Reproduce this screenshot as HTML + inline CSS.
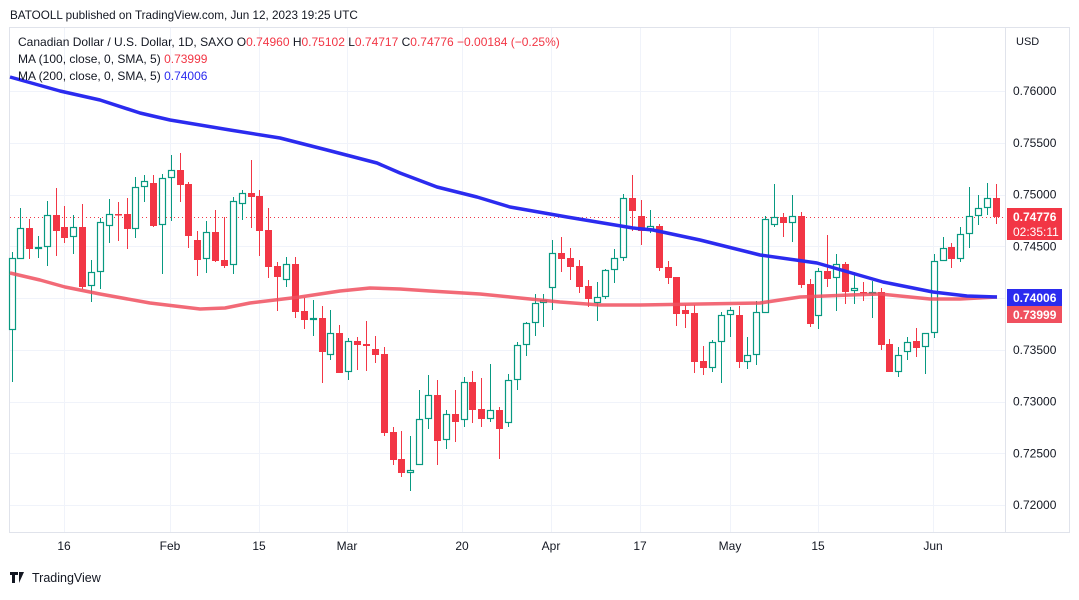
<!DOCTYPE html>
<html><head><meta charset="utf-8"><style>
body{margin:0;background:#fff;width:1079px;height:595px;overflow:hidden;font-family:"Liberation Sans",sans-serif}
</style></head><body>
<svg width="1079" height="595" xmlns="http://www.w3.org/2000/svg" font-family="Liberation Sans, sans-serif">
<rect width="1079" height="595" fill="#fff"/>
<text x="10" y="19" font-size="11.7" fill="#131722">BATOOLL published on TradingView.com, Jun 12, 2023 19:25 UTC</text>
<rect x="9.5" y="27.5" width="1060" height="505" fill="none" stroke="#e0e3eb"/>
<line x1="1005.5" y1="28" x2="1005.5" y2="532" stroke="#e0e3eb"/>
<g id="grid" stroke="#f0f3fa" stroke-width="1"></g>
<g id="labels" font-size="12" fill="#131722"></g>
<line x1="10" y1="217.5" x2="1005" y2="217.5" stroke="#f23645" stroke-dasharray="1,3"/>
<g id="candles"></g>
<polyline fill="none" stroke="#f0505f" stroke-width="3.5" stroke-opacity="0.85" stroke-linejoin="round" points="10,273 40,280 65,287 100,294 150,303 200,309 225,308 250,303 300,297 340,291 370,288 400,289 430,291 480,294 510,297 560,302 600,305 640,305 700,304 760,303 800,297 850,295 880,294 900,296 930,299 960,299 997,297"/>
<polyline fill="none" stroke="#2b2bef" stroke-width="3.5" stroke-linejoin="round" points="10,77 60,91 100,100 140,113 170,120 230,130 280,138 327,150 377,163 400,173 437,187 477,197 510,207 567,217 633,228 653,230 700,240 760,255 817,263 883,282 933,292 967,296 997,297"/>
<text x="1016" y="45" font-size="11" fill="#131722">USD</text>
<rect x="1007" y="208" width="55" height="32" fill="#f23645"/>
<text x="1013" y="221" font-size="12" fill="#fff" font-weight="bold">0.74776</text>
<text x="1013" y="236" font-size="12" fill="#fff">02:35:11</text>
<rect x="1007" y="289" width="55" height="17" fill="#2b2bef"/>
<text x="1013" y="302" font-size="12" fill="#fff" font-weight="bold">0.74006</text>
<rect x="1007" y="306" width="55" height="17" fill="#f0505f"/>
<text x="1013" y="319" font-size="12" fill="#fff" font-weight="bold">0.73999</text>
<g font-size="12">
<text x="18" y="46" fill="#131722">Canadian Dollar / U.S. Dollar, 1D, SAXO <tspan fill="#131722">O</tspan><tspan fill="#f23645">0.74960 </tspan><tspan fill="#131722">H</tspan><tspan fill="#f23645">0.75102 </tspan><tspan fill="#131722">L</tspan><tspan fill="#f23645">0.74717 </tspan><tspan fill="#131722">C</tspan><tspan fill="#f23645">0.74776 −0.00184 (−0.25%)</tspan></text>
<text x="18" y="63" fill="#131722">MA (100, close, 0, SMA, 5) <tspan fill="#f23645">0.73999</tspan></text>
<text x="18" y="80" fill="#131722">MA (200, close, 0, SMA, 5) <tspan fill="#2b2bef">0.74006</tspan></text>
</g>
<g transform="translate(10,572)"><path d="M0 0h8v3h-3v8h-3v-8h-2z M9 0l5 0 -5 11z" fill="#131722"/><text x="22" y="10" font-size="12.5" fill="#131722">TradingView</text></g>
</svg>
<script>
const ns="http://www.w3.org/2000/svg";
function el(p,t,a,txt){const e=document.createElementNS(ns,t);for(const k in a)e.setAttribute(k,a[k]);if(txt!==undefined)e.textContent=txt;document.getElementById(p).appendChild(e);return e;}
const xs=[[64,"16"],[170,"Feb"],[259,"15"],[347,"Mar"],[462,"20"],[551,"Apr"],[640,"17"],[730,"May"],[818,"15"],[933,"Jun"]];
xs.forEach(([x,t])=>{el("grid","line",{x1:x+.5,y1:28,x2:x+.5,y2:532});el("labels","text",{x:x,y:550,"text-anchor":"middle"},t);});
for(let i=0;i<9;i++){const y=91+i*51.75;el("grid","line",{x1:10,y1:Math.round(y)+.5,x2:1005,y2:Math.round(y)+.5});
 if(i!=4)el("labels","text",{x:1013,y:y+4},(0.76-i*0.005).toFixed(5));}
const C=[[12,330,252,382,258],[20,259,208,259,228],[29,228,219,259,249],[38,249,236,258,247],[47,247,201,266,215],[56,215,188,256,231],[64,227,206,243,238],[73,237,215,254,227],[82,227,204,289,287],[91,286,260,302,272],[100,272,218,289,222],[109,226,199,243,214],[118,214,202,241,215],[127,214,198,249,229],[135,229,177,238,187],[144,187,175,202,181],[153,183,175,227,226],[162,225,174,274,178],[171,178,155,221,170],[180,170,153,202,185],[188,184,182,248,236],[197,240,231,276,260],[206,259,221,273,232],[215,232,210,262,261],[224,260,217,268,266],[233,265,197,274,201],[242,204,190,220,193],[251,193,160,228,197],[259,196,190,256,231],[268,230,208,278,267],[277,266,262,311,277],[286,280,257,287,264],[295,264,257,318,312],[304,311,298,329,320],[313,320,300,336,318],[322,318,306,383,352],[330,355,310,360,333],[339,333,325,373,373],[348,372,338,380,341],[357,341,337,370,345],[366,344,321,371,346],[375,349,336,363,355],[384,354,347,436,433],[393,432,427,465,460],[401,459,431,477,473],[410,473,436,491,470],[419,465,390,465,419],[428,419,375,429,395],[437,395,380,465,441],[446,440,410,449,414],[455,414,390,442,422],[464,420,377,427,382],[472,382,371,423,410],[481,409,378,427,419],[490,419,364,422,410],[499,410,407,459,429],[508,423,374,427,380],[517,380,342,390,345],[526,345,322,356,323],[535,323,294,336,303],[543,303,294,327,300],[552,288,240,310,253],[561,253,237,272,259],[570,258,248,280,267],[579,266,260,293,287],[588,286,280,307,299],[597,303,282,321,297],[605,297,269,299,270],[614,270,249,283,258],[623,258,194,261,198],[632,198,175,231,211],[641,216,200,245,231],[650,230,210,233,226],[659,226,224,271,268],[668,267,261,284,278],[676,277,277,326,314],[685,310,305,328,314],[694,313,305,373,362],[703,361,346,375,368],[712,368,340,372,342],[721,342,312,383,315],[730,315,307,337,310],[739,315,306,368,362],[747,362,337,369,355],[756,355,301,365,312],[765,313,216,313,219],[774,225,184,227,217],[783,217,213,237,223],[792,223,195,242,216],[801,216,212,288,285],[810,284,279,327,324],[818,316,268,329,271],[827,271,235,287,279],[836,278,254,311,264],[845,264,262,304,292],[854,291,272,304,288],[863,292,282,301,293],[872,293,281,318,292],[881,292,288,350,345],[889,344,339,372,372],[898,372,347,377,355],[907,352,337,360,342],[916,341,328,357,348],[925,347,333,374,333],[934,333,254,338,261],[943,261,237,261,248],[951,247,243,268,259],[960,259,227,262,234],[969,234,187,248,216],[978,216,195,225,208],[987,208,183,215,198],[996,198,184,224,217]];
C.forEach(([x,o,h,l,c])=>{const up=c<o,col=up?"#089981":"#f23645";const top=Math.min(o,c),bh=Math.max(Math.abs(o-c),1.5);
el("candles","line",{x1:x+.5,y1:h,x2:x+.5,y2:l,stroke:col,"stroke-width":1});
if(up)el("candles","rect",{x:x-2.5,y:top+.5,width:6,height:Math.max(bh-1,1),fill:"#fff",stroke:col,"stroke-width":1.2});
else el("candles","rect",{x:x-3,y:top,width:7,height:bh,fill:col});});
</script>
</body></html>
